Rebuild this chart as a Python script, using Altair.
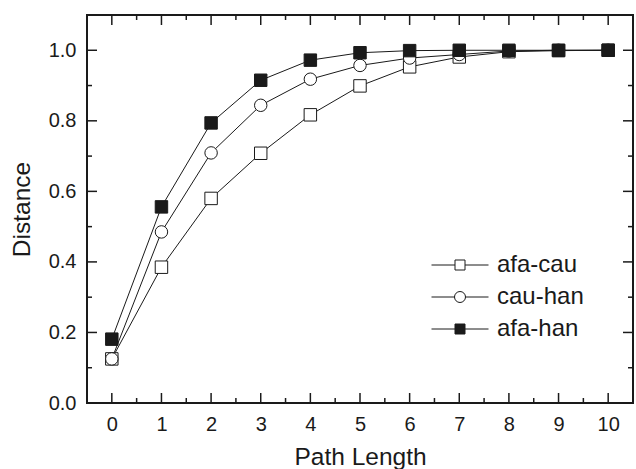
import altair as alt
import pandas as pd

# ---- data ----
path_len = list(range(11))
series_names = ["afa-cau", "cau-han", "afa-han"]
afa_cau = [0.125, 0.385, 0.580, 0.708, 0.817, 0.899, 0.953, 0.981, 0.996, 0.999, 1.0]
cau_han = [0.125, 0.485, 0.709, 0.844, 0.918, 0.957, 0.978, 0.988, 0.998, 1.0, 1.0]
afa_han = [0.181, 0.556, 0.794, 0.915, 0.972, 0.993, 0.999, 1.0, 1.0, 1.0, 1.0]

x_labels = list(range(11))
y_labels = [0.0, 0.2, 0.4, 0.6, 0.8, 1.0]
x_major = list(range(11))
x_minor = [i + 0.5 for i in range(10)]
y_major = [0.0, 0.2, 0.4, 0.6, 0.8, 1.0]
y_minor = [0.1, 0.3, 0.5, 0.7, 0.9]

rows = []
for name, vals in zip(series_names, [afa_cau, cau_han, afa_han]):
    for l, v in zip(path_len, vals):
        rows.append({"len": l, "value": v, "series": name})
df = pd.DataFrame(rows)

W, H = 546, 388
FONT = "Liberation Sans"
INK = "#1a1a1a"
MAJOR, MINOR = 10, 5

xs = alt.Scale(domain=[-0.5, 10.5], nice=False, zero=False)
ys = alt.Scale(domain=[0, 1.1], nice=False, zero=False)

x_axis = alt.Axis(
    values=x_labels, ticks=False, domain=False, grid=False,
    labelFont=FONT, labelFontSize=20, labelColor=INK, labelPadding=11,
    title="Path Length", titleFont=FONT, titleFontSize=24.5, titleFontWeight="normal",
    titleColor=INK, titlePadding=11)
y_axis = alt.Axis(
    values=y_labels, format=".1f", ticks=False, domain=False, grid=False,
    labelFont=FONT, labelFontSize=20, labelColor=INK, labelPadding=11,
    title="Distance", titleFont=FONT, titleFontSize=24.5, titleFontWeight="normal",
    titleColor=INK, titlePadding=14)

base = alt.Chart(df).encode(
    x=alt.X("len:Q", scale=xs, axis=x_axis),
    y=alt.Y("value:Q", scale=ys, axis=y_axis),
)
lines = base.mark_line(color=INK, strokeWidth=1).encode(detail="series:N")
points = base.mark_point(filled=True, size=155, stroke=INK, strokeWidth=1, opacity=1).encode(
    shape=alt.Shape("series:N", scale=alt.Scale(domain=series_names, range=["square", "circle", "square"]), legend=None),
    fill=alt.Fill("series:N", scale=alt.Scale(domain=series_names, range=["white", "white", INK]), legend=None),
)


# inward-pointing frame ticks, positioned by the shared scales
def x_ticks(vals, length, at_top):
    y0 = 0 if at_top else H
    y1 = length if at_top else H - length
    return alt.Chart(pd.DataFrame({"v": vals})).mark_rule(color=INK, strokeWidth=1.5).encode(
        x=alt.X("v:Q", scale=xs, axis=x_axis), y=alt.value(y0), y2=alt.value(y1))


def y_ticks(vals, length, at_right):
    x0 = W if at_right else 0
    x1 = W - length if at_right else length
    return alt.Chart(pd.DataFrame({"v": vals})).mark_rule(color=INK, strokeWidth=1.5).encode(
        y=alt.Y("v:Q", scale=ys, axis=y_axis), x=alt.value(x0), x2=alt.value(x1))


tick_layers = [
    x_ticks(x_major, MAJOR, False), x_ticks(x_minor, MINOR, False),
    x_ticks(x_major, MAJOR, True), x_ticks(x_minor, MINOR, True),
    y_ticks(y_major, MAJOR, False), y_ticks(y_minor, MINOR, False),
    y_ticks(y_major, MAJOR, True), y_ticks(y_minor, MINOR, True),
]

# legend symbols: short line with marker in the middle (unit = sqrt(size)/2 px)
leg_sq = "M-2.85,0H-0.5M0.5,0H2.85M-0.5,-0.5H0.5V0.5H-0.5Z"
leg_ci = "M-2.85,0H-0.55M0.55,0H2.85M0.55,0A0.55,0.55,0,1,1,-0.55,0A0.55,0.55,0,1,1,0.55,0Z"

legend_layer = base.mark_point(filled=True, opacity=0, stroke=INK, strokeWidth=1).encode(
    shape=alt.Shape("series:N", scale=alt.Scale(domain=series_names, range=[leg_sq, leg_ci, leg_sq]),
                    legend=alt.Legend(title=None, orient="none", legendX=361, legendY=238, padding=0,
                                      symbolSize=400, labelFont=FONT, labelFontSize=24, labelColor=INK,
                                      labelOffset=25, rowPadding=8, symbolStrokeWidth=1,
                                      symbolStrokeColor=INK, symbolOpacity=1)),
    fill=alt.Fill("series:N", scale=alt.Scale(domain=series_names, range=["white", "white", INK])),
    stroke=alt.Stroke("series:N", scale=alt.Scale(domain=series_names, range=[INK, INK, INK])),
)

chart = alt.layer(lines, points, *tick_layers, legend_layer).resolve_scale(
    shape="independent", fill="independent", stroke="independent"
).properties(
    width=W, height=H,
    padding={"left": 87, "top": 15, "right": 3, "bottom": 66},
    autosize=alt.AutoSizeParams(type="none"),
).configure_view(stroke=INK, strokeWidth=2)

chart.save("out.html", embed_options={"renderer": "svg", "actions": False})
